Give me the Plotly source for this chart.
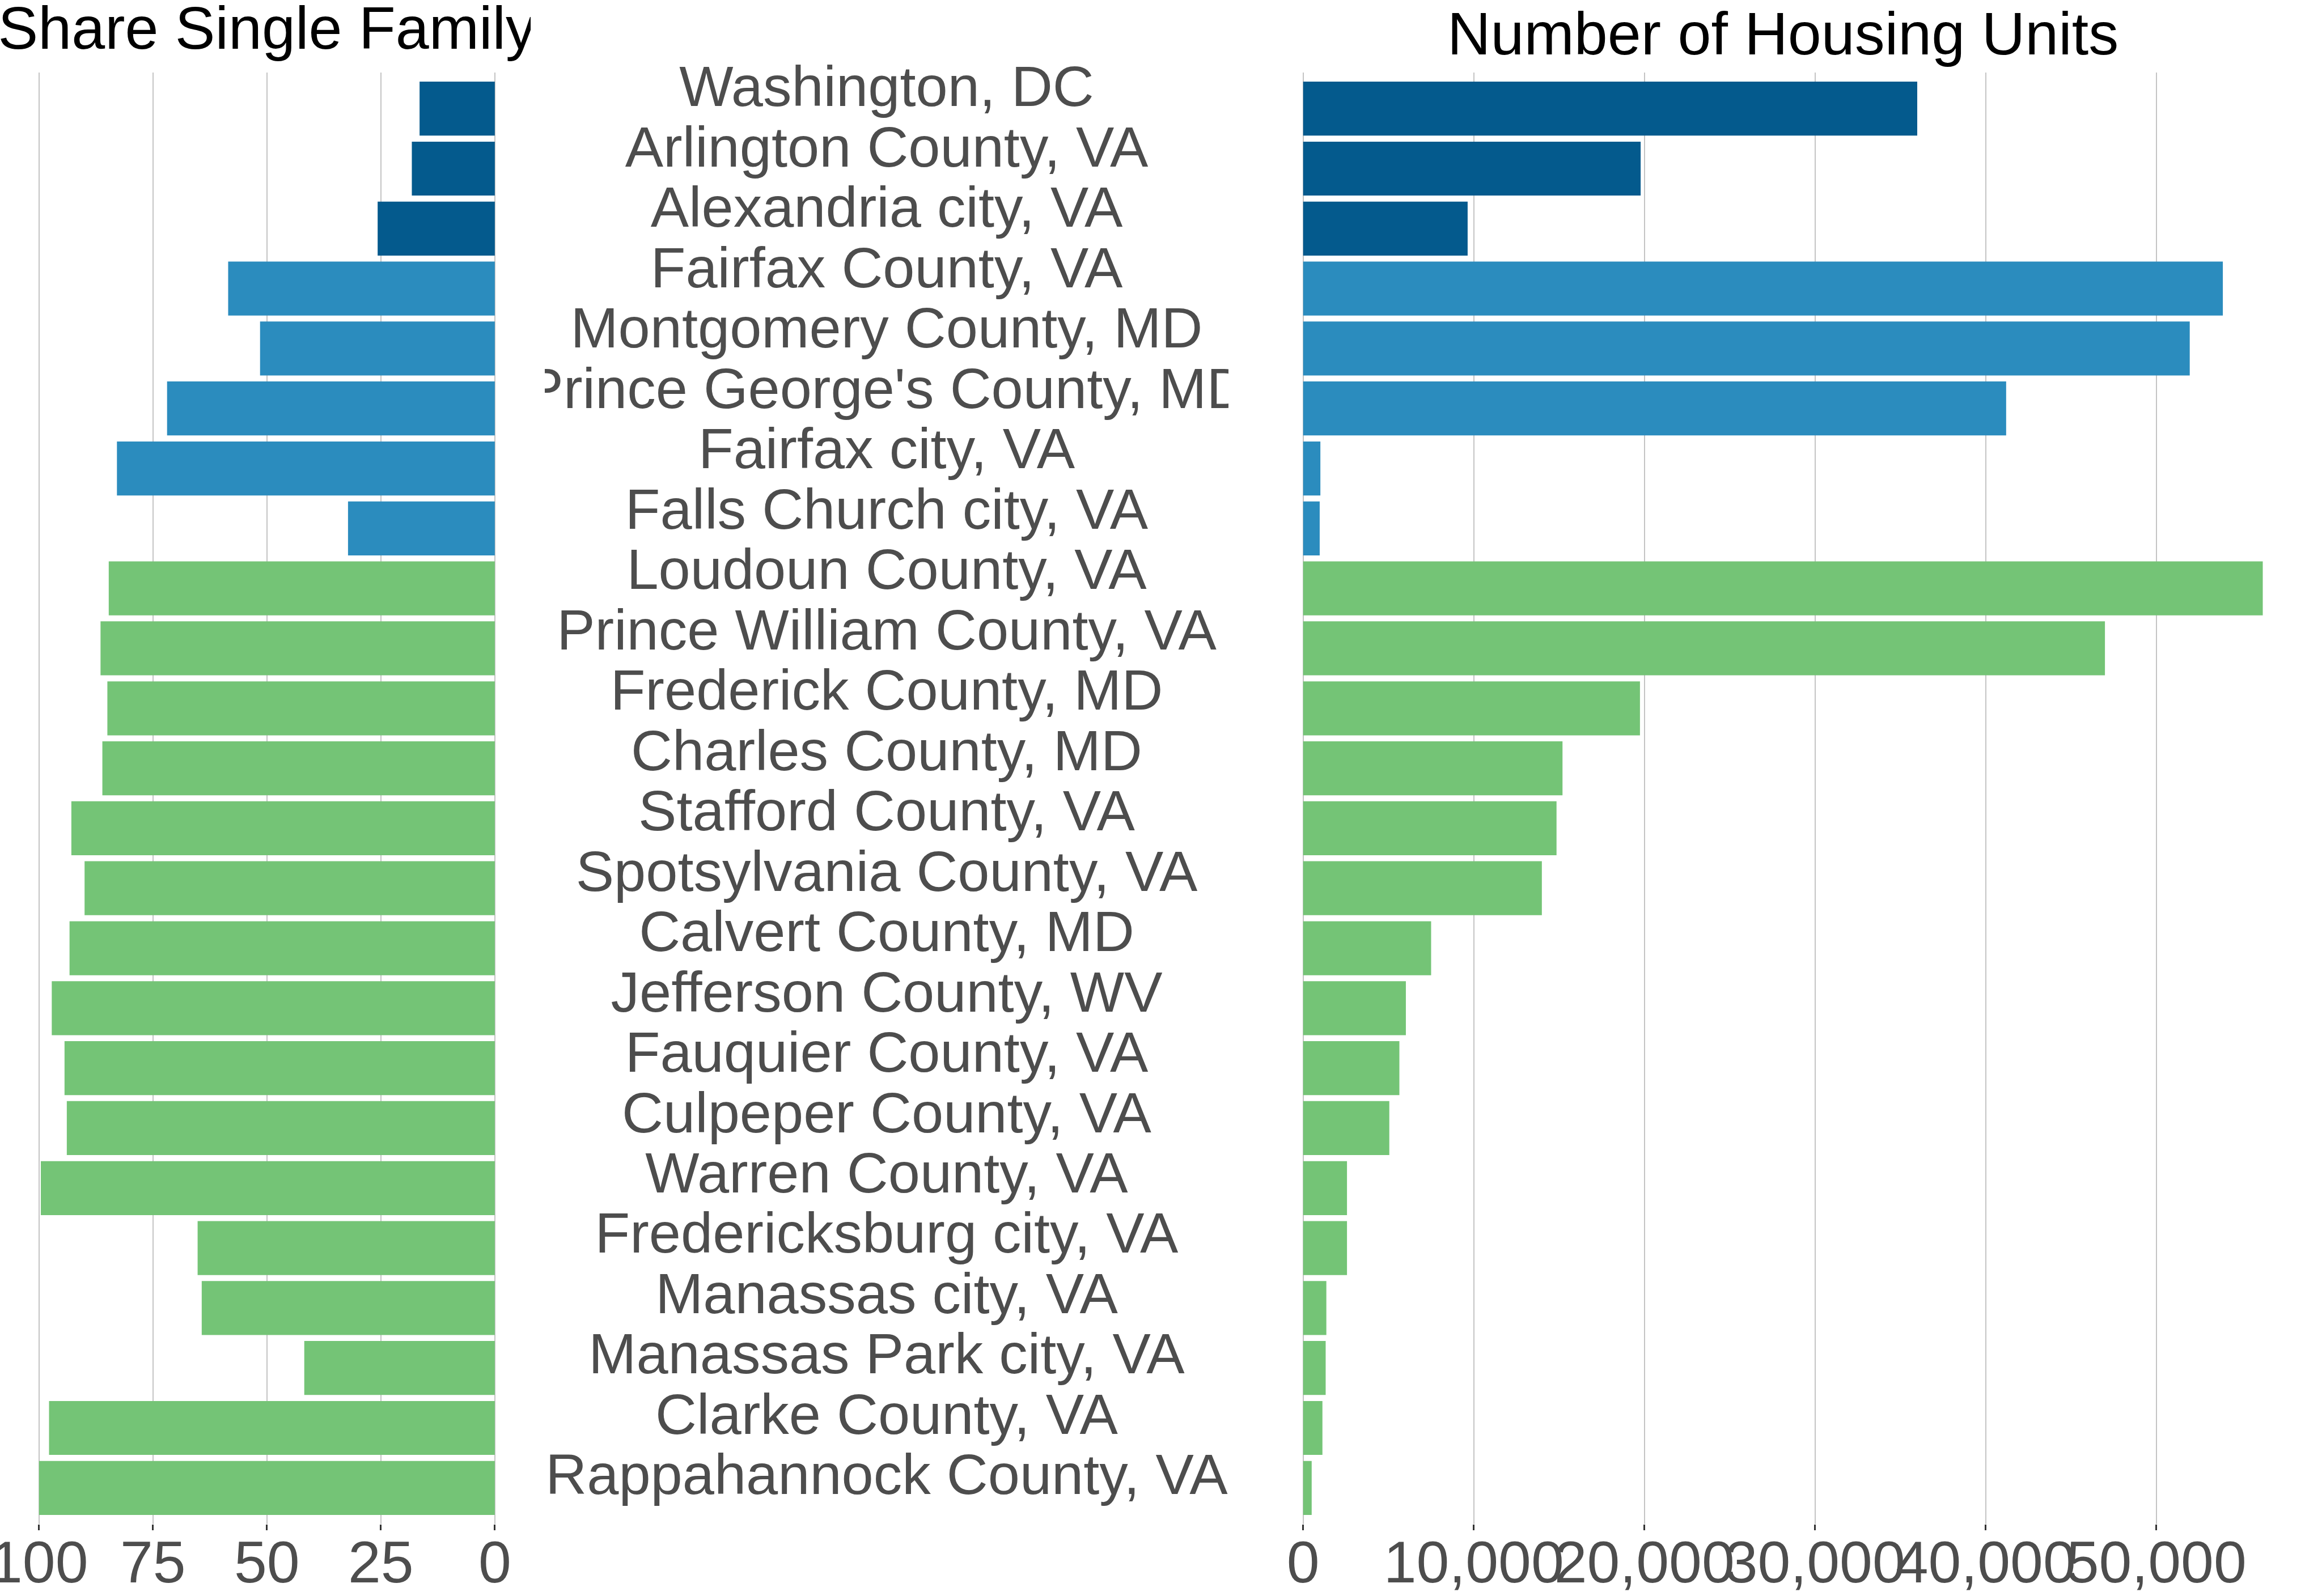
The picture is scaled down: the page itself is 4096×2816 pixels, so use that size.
import plotly.graph_objects as go

# ---------------- data ----------------
counties = [
    "Washington, DC", "Arlington County, VA", "Alexandria city, VA", "Fairfax County, VA",
    "Montgomery County, MD", "Prince George's County, MD", "Fairfax city, VA", "Falls Church city, VA",
    "Loudoun County, VA", "Prince William County, VA", "Frederick County, MD", "Charles County, MD",
    "Stafford County, VA", "Spotsylvania County, VA", "Calvert County, MD", "Jefferson County, WV",
    "Fauquier County, VA", "Culpeper County, VA", "Warren County, VA", "Fredericksburg city, VA",
    "Manassas city, VA", "Manassas Park city, VA", "Clarke County, VA", "Rappahannock County, VA",
]
region = ["Core"] * 3 + ["Inner"] * 5 + ["Outer"] * 16
share_single_family = [
    16.5, 18.2, 25.7, 58.5, 51.5, 71.9, 82.9, 32.2,
    84.7, 86.5, 85.0, 86.1, 92.9, 90.0, 93.3, 97.2,
    94.4, 93.9, 99.6, 65.2, 64.3, 41.8, 97.8, 100.0,
]
housing_units = [
    35990, 19780, 9640, 53900, 51960, 41200, 1010, 970,
    56240, 46990, 19740, 15200, 14850, 13990, 7500, 6020,
    5640, 5050, 2570, 2570, 1360, 1320, 1130, 500,
]
share_ticks = [0, 25, 50, 75, 100]
units_ticks = [0, 10000, 20000, 30000, 40000, 50000]
title_left = "Share Single Family"
title_right = "Number of Housing Units"

# ---------------- style ----------------
W, H = 4096, 2816
region_colors = {"Core": "#045A8D", "Inner": "#2B8CBE", "Outer": "#74C476"}
bar_colors = [region_colors[r] for r in region]
FONT = "Liberation Sans, Arial, Helvetica, sans-serif"
GRID = "#C4C4C4"
TXT = "#4D4D4D"

# panel geometry (pixels)
left_px = (28.6, 913.0)
right_px = (2214.1, 4076.1)
panel_top, panel_bot = 128.2, 2688.8
label_px = (961.0, 2167.0)
label_top, label_bot = 20.0, 2800.0
title_clip = 936.0
title_h = 128.0


def xd(a, b):
    return [a / W, b / W]


def yd(top, bot):
    return [1 - bot / H, 1 - top / H]


fig = go.Figure()

fig.add_trace(go.Bar(
    x=share_single_family, y=counties, orientation="h",
    marker=dict(color=bar_colors, line=dict(width=0)), width=0.9,
    xaxis="x", yaxis="y", hoverinfo="skip", showlegend=False,
))
fig.add_trace(go.Bar(
    x=housing_units, y=counties, orientation="h",
    marker=dict(color=bar_colors, line=dict(width=0)), width=0.9,
    xaxis="x2", yaxis="y2", hoverinfo="skip", showlegend=False,
))
# county labels in the middle column (clipped to its column)
fig.add_trace(go.Scatter(
    x=[0] * len(counties), y=counties, mode="text", text=counties,
    textposition="middle center",
    textfont=dict(family=FONT, size=101, color=TXT),
    cliponaxis=True, xaxis="x3", yaxis="y3", hoverinfo="skip", showlegend=False,
))
# left title (clipped at the label column)
title_x = (left_px[0] + left_px[1]) / 2
fig.add_trace(go.Scatter(
    x=[title_x], y=[59.3], mode="text", text=[title_left],
    textposition="middle center",
    textfont=dict(family=FONT, size=106, color="#000000"),
    cliponaxis=True, xaxis="x4", yaxis="y4", hoverinfo="skip", showlegend=False,
))

tick_common = dict(
    ticks="outside", ticklen=10, tickwidth=2.5, tickcolor="#333333",
    showgrid=True, gridcolor=GRID, gridwidth=2.4,
    zeroline=False, showline=False, automargin=False,
    tickangle=0, ticklabeloverflow="allow", ticklabelstandoff=-33,
    tickfont=dict(family=FONT, size=104, color=TXT),
)
ycat = dict(type="category", categoryorder="array", categoryarray=counties,
            showgrid=False, zeroline=False, showline=False, showticklabels=False,
            ticks="", automargin=False)

fig.update_layout(
    template="none",
    width=W, height=H,
    margin=dict(l=0, r=0, t=0, b=0, pad=0),
    paper_bgcolor="white", plot_bgcolor="white",
    showlegend=False, bargap=0.1,
    xaxis=dict(domain=xd(*left_px), range=[105, -5], tickvals=share_ticks,
               ticktext=[str(v) for v in share_ticks], anchor="y", **tick_common),
    yaxis=dict(domain=yd(panel_top, panel_bot), range=[23.6, -0.6], anchor="x", **ycat),
    xaxis2=dict(domain=xd(*right_px), range=[-2812, 59050], tickvals=units_ticks,
                tickformat=",d", anchor="y2", **tick_common),
    yaxis2=dict(domain=yd(panel_top, panel_bot), range=[23.6, -0.6], anchor="x2", **ycat),
    xaxis3=dict(domain=xd(*label_px), range=[-1, 1], visible=False, anchor="y3"),
    yaxis3=dict(domain=yd(label_top, label_bot), range=[24.773, -1.3325], anchor="x3",
                **ycat),
    xaxis4=dict(domain=xd(0, title_clip), range=[0, title_clip], visible=False, anchor="y4"),
    yaxis4=dict(domain=yd(0, title_h), range=[title_h, 0], visible=False, anchor="x4"),
    annotations=[dict(
        text=title_right, xref="x2 domain", yref="paper", x=0.5, y=1 - 59.3 / H,
        xanchor="center", yanchor="middle", showarrow=False,
        font=dict(family=FONT, size=106, color="#000000"),
    )],
)
fig.update_layout(yaxis3=dict(visible=False))

fig.write_html("out.html", config={"displayModeBar": False})
